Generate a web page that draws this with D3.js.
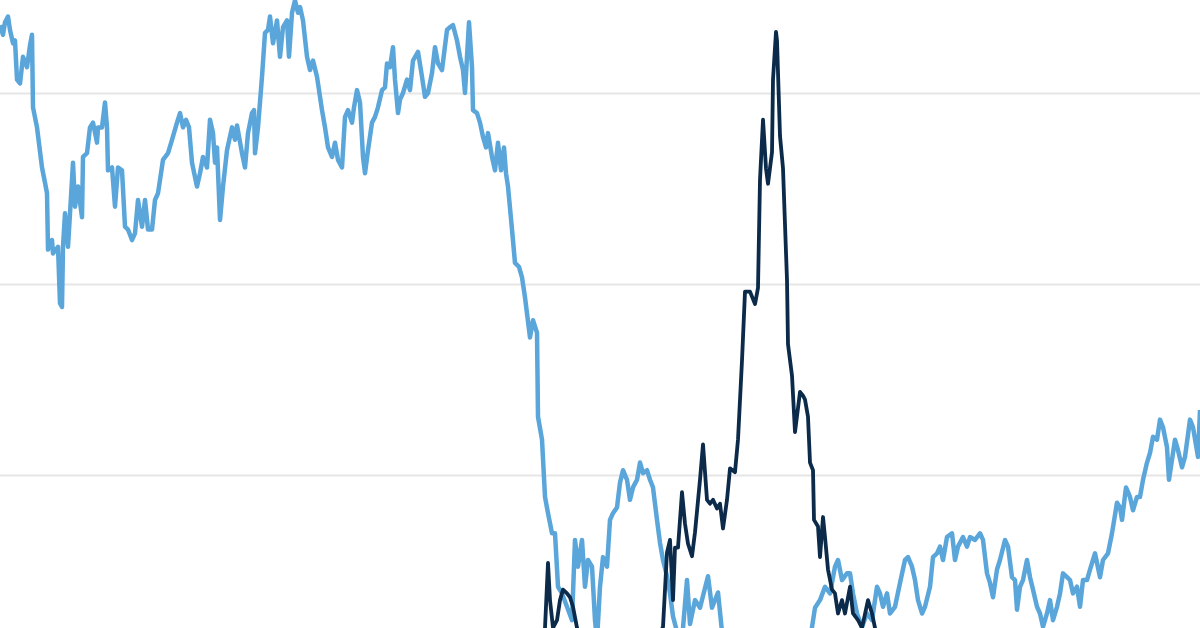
<!doctype html>
<html>
<head>
<meta charset="utf-8" />
<title>two series</title>
<script src="https://cdn.jsdelivr.net/npm/d3@7/dist/d3.min.js"></script>
<style>
  html, body { margin: 0; padding: 0; background: #fff; }
  svg { display: block; }
</style>
</head>
<body>
<svg id="chart" width="1200" height="628"></svg>
<script>
// [day, value]
var lightSeries = [
  [0,67.1],[9,66.1],[15,67.4],[24,68.0],[30,66.6],[39,65.2],[45,65.5],[51,61.4],[60,61.0],[69,63.8],
  [81,62.7],[90,65.0],[96,66.1],[99,58.5],[111,56.4],[126,52.2],[135,50.6],[141,49.5],[144,43.6],[156,44.6],
  [159,43.2],[174,43.9],[180,38.0],[186,37.6],[189,43.9],[195,47.4],[204,43.9],[210,47.4],[219,52.7],[225,48.1],
  [234,50.2],[246,47.0],[249,53.3],[261,53.7],[270,56.4],[279,56.9],[291,54.8],[294,56.4],[306,56.4],[315,59.0],
  [321,56.4],[324,51.9],[336,52.2],[345,48.1],[354,52.2],[366,51.9],[375,46.0],[384,45.7],[396,44.6],[405,45.3],
  [414,48.8],[426,46.0],[435,48.8],[444,45.7],[456,45.7],[465,48.8],[474,49.5],[489,53.0],[504,53.7],[516,55.1],
  [531,56.9],[540,57.9],[549,56.4],[558,57.2],[567,56.4],[576,52.7],[591,50.2],[600,51.6],[609,53.3],[621,52.2],
  [630,57.2],[639,55.8],[645,52.7],[651,54.3],[660,46.7],[669,50.2],[681,54.0],[696,56.4],[705,55.1],[711,56.6],
  [726,53.7],[735,52.2],[744,55.8],[756,57.9],[762,58.2],[765,53.7],[774,56.4],[786,61.7],[795,66.3],[804,66.6],
  [810,68.0],[819,65.2],[831,67.6],[840,63.8],[849,66.9],[861,67.6],[867,63.8],[876,68.4],[885,69.7],[894,68.4],
  [900,69.0],[909,67.6],[921,63.8],[930,62.4],[939,63.4],[951,61.7],[966,58.2],[975,56.4],[984,54.3],[996,53.3],
  [1005,54.8],[1014,53.0],[1026,52.2],[1035,57.5],[1044,58.2],[1056,56.9],[1062,58.5],[1071,60.3],[1080,59.0],[1089,53.3],
  [1095,51.6],[1104,54.0],[1116,56.9],[1125,57.5],[1134,58.5],[1146,60.3],[1155,60.6],[1161,63.1],[1170,62.7],[1179,64.8],
  [1185,61.4],[1194,57.9],[1200,59.3],[1209,60.0],[1221,61.4],[1230,60.3],[1239,63.4],[1254,64.3],[1266,61.7],[1275,59.6],
  [1284,60.0],[1296,62.1],[1305,64.8],[1314,63.1],[1326,62.4],[1341,66.6],[1350,66.9],[1359,67.1],[1371,65.5],[1380,63.8],
  [1389,62.4],[1395,60.0],[1401,63.8],[1407,67.4],[1416,62.7],[1419,58.2],[1431,57.9],[1440,56.9],[1449,55.4],[1458,54.3],
  [1464,55.8],[1476,53.3],[1485,51.9],[1494,54.8],[1503,51.9],[1512,54.3],[1518,51.6],[1524,50.2],[1536,45.7],[1545,42.2],
  [1557,41.8],[1566,40.7],[1575,38.6],[1590,34.4],[1599,36.2],[1611,34.9],[1614,26.1],[1626,23.7],[1635,17.7],[1644,16.0],
  [1656,13.9],[1665,13.9],[1674,8.3],[1686,7.6],[1701,6.2],[1716,4.8],[1725,13.2],[1734,10.4],[1746,13.2],[1755,8.3],
  [1764,11.1],[1776,10.4],[1785,4.8],[1791,2.7],[1800,8.3],[1809,11.4],[1821,10.4],[1830,15.3],[1839,16.0],[1851,16.6],
  [1860,19.2],[1869,20.5],[1881,19.5],[1890,17.4],[1899,18.7],[1911,19.5],[1920,21.3],[1929,20.2],[1941,20.5],[1950,19.5],
  [1959,18.7],[1971,15.3],[1980,12.9],[1989,11.1],[2001,9.4],[2010,7.6],[2019,5.2],[2031,3.6],[2046,2.7],[2061,9.0],
  [2070,4.4],[2085,6.9],[2100,6.1],[2124,9.4],[2136,6.1],[2154,7.7],[2166,3.6],[2205,1.5],[2280,0.6],[2370,1.2],
  [2430,2.7],[2445,6.1],[2460,6.9],[2475,8.3],[2490,7.6],[2505,10.4],[2514,11.1],[2526,9.0],[2541,9.7],[2550,9.7],
  [2559,7.6],[2571,5.5],[2586,4.1],[2601,5.5],[2616,4.8],[2631,8.3],[2640,7.6],[2649,6.2],[2661,7.6],[2670,5.5],
  [2685,6.2],[2700,8.7],[2715,11.1],[2724,11.4],[2736,10.4],[2745,9.0],[2754,6.9],[2766,5.5],[2775,6.2],[2790,8.3],
  [2799,11.4],[2811,11.8],[2820,12.5],[2829,11.1],[2841,13.5],[2856,13.9],[2865,11.1],[2874,12.5],[2889,13.5],[2901,12.5],
  [2910,13.5],[2925,13.2],[2940,13.9],[2949,13.2],[2961,9.7],[2970,8.7],[2979,7.2],[2991,10.1],[3000,11.1],[3015,13.2],
  [3024,12.5],[3036,9.3],[3045,9.0],[3051,5.9],[3060,8.3],[3069,9.0],[3081,11.1],[3090,9.3],[3099,8.0],[3111,6.2],
  [3120,5.5],[3129,4.1],[3141,5.5],[3150,6.9],[3159,4.8],[3171,6.2],[3180,7.6],[3189,9.7],[3201,9.3],[3210,9.0],
  [3219,7.6],[3231,8.3],[3240,6.2],[3249,9.0],[3261,9.0],[3270,10.1],[3285,11.8],[3300,9.3],[3309,11.1],[3324,11.8],
  [3336,13.9],[3351,17.1],[3360,16.6],[3366,15.3],[3378,18.7],[3390,17.7],[3399,16.3],[3411,17.7],[3420,17.7],[3429,19.5],
  [3441,21.3],[3450,22.3],[3459,24.0],[3471,23.7],[3480,25.8],[3489,25.0],[3501,22.9],[3507,19.5],[3516,21.6],[3525,23.7],
  [3534,22.6],[3546,20.8],[3555,21.9],[3570,25.8],[3579,25.0],[3594,21.9],[3600,26.8]
];

var darkSeries = [
  [1620,1.2],[1635,4.0],[1644,10.8],[1650,6.9],[1659,4.0],[1671,4.8],[1680,6.9],[1689,8.0],[1701,7.6],[1710,7.2],
  [1719,6.2],[1731,4.0],[1755,1.2],[1860,0.6],[1950,1.2],[1989,4.1],[2001,11.9],[2010,13.2],[2019,6.9],[2025,12.4],
  [2034,12.4],[2046,18.2],[2055,14.9],[2064,12.8],[2076,11.5],[2085,14.0],[2100,19.5],[2109,23.2],[2121,17.4],[2130,17.0],
  [2139,17.4],[2151,16.5],[2160,17.0],[2169,14.4],[2181,17.4],[2190,20.7],[2205,20.3],[2214,23.7],[2226,32.0],[2235,39.2],
  [2250,39.2],[2265,37.9],[2274,39.6],[2280,50.9],[2289,57.2],[2298,52.1],[2304,50.5],[2316,53.8],[2319,61.4],[2328,66.4],
  [2331,65.5],[2340,55.5],[2349,52.1],[2361,40.4],[2364,33.7],[2376,30.4],[2385,24.5],[2400,28.7],[2409,28.3],[2415,27.9],
  [2424,26.1],[2430,21.3],[2439,20.5],[2442,15.3],[2454,14.6],[2460,11.4],[2469,15.6],[2475,13.5],[2484,10.1],[2496,8.0],
  [2505,7.6],[2514,5.5],[2526,6.9],[2535,5.5],[2550,8.3],[2559,5.5],[2574,4.8],[2586,4.0],[2604,6.9],[2616,5.5],
  [2625,4.0],[2640,1.2]
];

var gridValues = [20, 40, 60];

var width = 1200, height = 628;
var svg = d3.select('#chart');

var x = d3.scaleLinear().domain([0, 3600]).range([0, width]);
var y = d3.scaleLinear().domain([0, 60]).range([666, 93]);

// gridlines
svg.append('g')
    .attr('class', 'grid')
    .call(d3.axisLeft(y).tickValues(gridValues).tickSize(-width).tickFormat(''))
    .call(function(g) { g.select('.domain').remove(); })
    .selectAll('line')
    .attr('stroke', '#e6e6e6')
    .attr('stroke-width', 2);

var line = d3.line()
    .x(function(d) { return x(d[0]); })
    .y(function(d) { return y(d[1]); });

svg.append('path')
    .datum(lightSeries)
    .attr('fill', 'none')
    .attr('stroke', '#5aa6da')
    .attr('stroke-width', 4.5)
    .attr('stroke-linejoin', 'round')
    .attr('d', line);

svg.append('path')
    .datum(darkSeries)
    .attr('fill', 'none')
    .attr('stroke', '#0c2a4a')
    .attr('stroke-width', 3.8)
    .attr('stroke-linejoin', 'round')
    .attr('d', line);
</script>
</body>
</html>
